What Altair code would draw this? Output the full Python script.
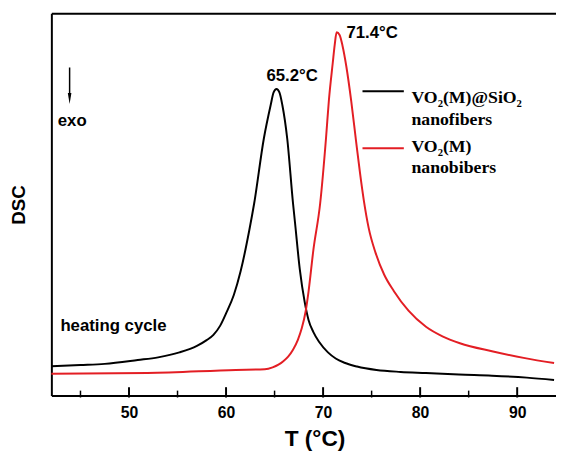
import altair as alt
import pandas as pd

# ---- data ----
black_T = [42.0, 45.0, 47.5, 50.9, 53.0, 55.2, 57.0, 58.0, 58.7, 59.4, 60.0, 60.8, 61.5, 62.4, 62.9,
           63.9, 64.6, 64.9, 65.2, 65.5, 65.8, 66.3, 66.9, 67.1, 67.6, 68.1, 68.5, 69.0, 69.6,
           70.5, 71.3, 72.2, 73.5, 75.5, 78.0, 80.6, 84.0, 87.4, 91.0, 93.8]
black_DSC = [7.7, 8.0, 8.3, 9.3, 10.0, 11.3, 13.0, 14.5, 15.9, 18.3, 21.5, 26.3, 32.5, 43.3, 50.3,
             67.3, 76.0, 79.3, 80.2, 79.3, 76.0, 67.3, 50.3, 45.4, 33.0, 24.5, 19.8, 16.6, 14.0,
             11.3, 9.7, 8.6, 7.6, 6.7, 6.2, 5.9, 5.5, 5.2, 4.7, 4.1]

red_T = [42.0, 51.9, 61.0, 64.0, 64.8, 65.4, 65.9, 66.4, 66.9, 67.4, 67.8, 68.2, 68.5, 69.0, 69.7,
         70.3, 70.6, 71.0, 71.2, 71.4, 71.7, 72.0, 72.4, 72.9, 73.4, 73.8, 74.2, 74.7, 75.4, 76.3,
         77.3, 78.8, 80.6, 82.3, 84.1, 87.4, 90.8, 93.8]
red_DSC = [5.7, 5.9, 6.7, 6.9, 7.4, 8.1, 9.0, 10.2, 12.0, 14.6, 17.6, 22.0, 27.2, 38.1, 50.3,
           67.3, 77.3, 87.1, 91.8, 95.0, 94.3, 91.5, 86.0, 77.0, 66.5, 58.3, 51.0, 43.8, 37.4, 31.6,
           27.3, 22.2, 18.0, 15.5, 13.7, 11.6, 9.8, 8.5]

x_major = [50, 60, 70, 80, 90]
x_minor = [45, 55, 65, 75, 85]

annot_text = ["65.2°C", "71.4°C", "exo", "heating cycle"]
annot_T = [64.16, 72.4, 42.66, 42.93]
annot_DSC = [82.2, 93.6, 70.4, 17.0]

legend_text = ["VO₂(M)@SiO₂", "nanofibers", "VO₂(M)", "nanobibers"]
legend_text_T = [79.1, 79.1, 79.1, 79.1]
legend_text_DSC = [76.55, 70.88, 63.66, 58.25]

legend_series = ["VO2(M)@SiO2 nanofibers", "VO2(M) nanobibers"]
legend_colors = ["#000000", "#e31e24"]
legend_line_T1 = [74.06, 74.06]
legend_line_T2 = [78.32, 78.32]
legend_line_DSC = [79.6, 64.7]

arrow_T = [43.88]
arrow_top = [85.8]
arrow_bottom = [78.9]
arrow_head = [77.7]

# ---- tables ----
df_black = pd.DataFrame({"T": black_T, "DSC": black_DSC})
df_red = pd.DataFrame({"T": red_T, "DSC": red_DSC})
df_annot = pd.DataFrame({"T": annot_T, "DSC": annot_DSC, "label": annot_text})
df_leg_text = pd.DataFrame({"T": legend_text_T, "DSC": legend_text_DSC, "label": legend_text})
df_leg_line = pd.DataFrame({"T1": legend_line_T1, "T2": legend_line_T2, "DSC": legend_line_DSC,
                            "series": legend_series})
df_arrow = pd.DataFrame({"T": arrow_T, "top": arrow_top, "bottom": arrow_bottom, "head": arrow_head})
df_major = pd.DataFrame({"T": x_major, "y0": [-0.5] * len(x_major), "y1": [2.2] * len(x_major)})
df_minor = pd.DataFrame({"T": x_minor, "y0": [-0.5] * len(x_minor), "y1": [1.3] * len(x_minor)})

xscale = alt.Scale(domain=[42, 94], nice=False, zero=False)
yscale = alt.Scale(domain=[0, 100], nice=False, zero=False)
color_scale = alt.Scale(domain=legend_series, range=legend_colors)

major_axis = alt.Axis(orient="bottom", values=x_major, ticks=False,
                      labelPadding=9, labelFontSize=16, labelFontWeight="bold",
                      labelColor="black", labelFont="Liberation Sans", domain=True, domainWidth=2,
                      domainColor="black", title="T (°C)", titleFontSize=23, titleFontWeight="bold",
                      titleFont="Liberation Sans", titleColor="black", titleX=267, titleY=51,
                      titleBaseline="alphabetic", grid=False)
top_axis = alt.Axis(orient="top", labels=False, ticks=False, domain=True, domainWidth=2,
                    domainColor="black", title="", grid=False)
y_axis = alt.Axis(orient="left", labels=False, ticks=False, domain=True, domainWidth=2,
                  domainColor="black", title="DSC", titleFontSize=19, titleFontWeight="bold",
                  titleFont="Liberation Sans", titleColor="black", titleX=-27, titleY=194,
                  titleBaseline="alphabetic", grid=False)

black_line = alt.Chart(df_black).mark_line(color="#000000", strokeWidth=2, interpolate="monotone").encode(
    x=alt.X("T:Q", scale=xscale, axis=major_axis),
    y=alt.Y("DSC:Q", scale=yscale, axis=y_axis),
)
red_line = alt.Chart(df_red).mark_line(color="#e31e24", strokeWidth=2, interpolate="monotone").encode(
    x=alt.X("T:Q", scale=xscale, axis=top_axis),
    y=alt.Y("DSC:Q", scale=yscale, axis=None),
)
major_ticks = alt.Chart(df_major).mark_rule(strokeWidth=2, color="black").encode(
    x=alt.X("T:Q", scale=xscale, axis=None),
    y=alt.Y("y0:Q", scale=yscale, axis=None),
    y2="y1:Q",
)
minor_ticks = alt.Chart(df_minor).mark_rule(strokeWidth=1.5, color="black").encode(
    x=alt.X("T:Q", scale=xscale, axis=None),
    y=alt.Y("y0:Q", scale=yscale, axis=None),
    y2="y1:Q",
)
annots = alt.Chart(df_annot).mark_text(align="left", baseline="alphabetic", font="Liberation Sans",
                                       fontSize=17, fontWeight="bold", color="black").encode(
    x=alt.X("T:Q", scale=xscale, axis=None),
    y=alt.Y("DSC:Q", scale=yscale, axis=None),
    text="label:N",
)
leg_text = alt.Chart(df_leg_text).mark_text(align="left", baseline="alphabetic", font="Liberation Serif",
                                            fontSize=18, fontWeight="bold", color="black").encode(
    x=alt.X("T:Q", scale=xscale, axis=None),
    y=alt.Y("DSC:Q", scale=yscale, axis=None),
    text="label:N",
)
leg_lines = alt.Chart(df_leg_line).mark_rule(strokeWidth=2).encode(
    x=alt.X("T1:Q", scale=xscale, axis=None),
    x2="T2:Q",
    y=alt.Y("DSC:Q", scale=yscale, axis=None),
    color=alt.Color("series:N", scale=color_scale, legend=None),
)
arrow_shaft = alt.Chart(df_arrow).mark_rule(strokeWidth=1.5, color="black").encode(
    x=alt.X("T:Q", scale=xscale, axis=None),
    y=alt.Y("top:Q", scale=yscale, axis=None),
    y2="bottom:Q",
)
arrow_tip = alt.Chart(df_arrow).mark_point(shape="M-0.33,-1L0.33,-1L0,1Z", size=121, filled=True,
                                           color="black", opacity=1).encode(
    x=alt.X("T:Q", scale=xscale, axis=None),
    y=alt.Y("head:Q", scale=yscale, axis=None),
)

chart = alt.layer(black_line, red_line, major_ticks, minor_ticks, annots, leg_text, leg_lines,
                  arrow_shaft, arrow_tip).resolve_axis(
    x="independent", y="independent"
).properties(
    width=512, height=388,
    autosize=alt.AutoSizeParams(type="none"),
    padding={"left": 44, "top": 2, "right": 0, "bottom": 57},
    background="white",
).configure_view(stroke=None)

chart.save("out.html", embed_options={"renderer": "svg", "actions": False})
